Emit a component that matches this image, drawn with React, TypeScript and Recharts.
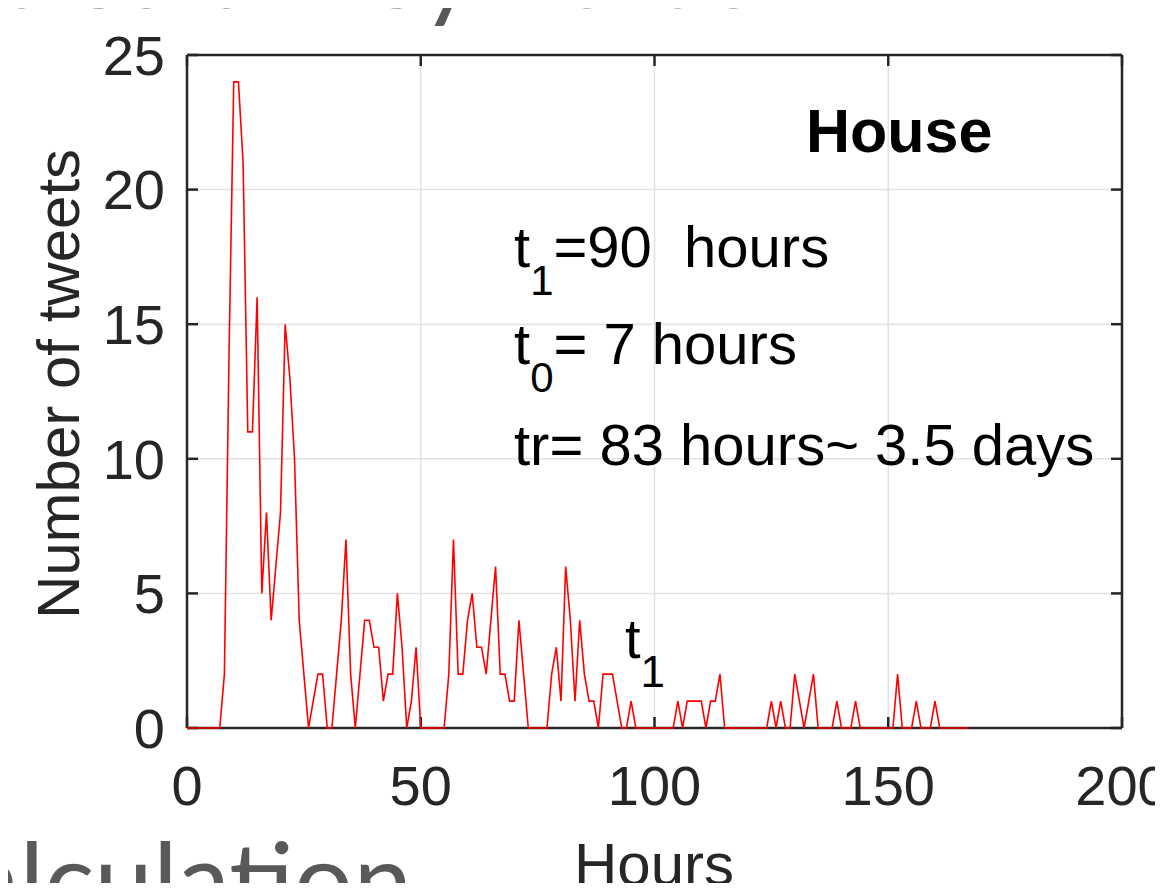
import { CartesianGrid, Line, LineChart, XAxis, YAxis } from "recharts";

// tweets per hour, one array per day (24 hourly counts each)
const day1 = [0, 0, 0, 0, 0, 0, 0, 0, 2, 14, 24, 24, 21, 11, 11, 16, 5, 8, 4, 6, 8, 15, 13, 10];
const day2 = [4, 2, 0, 1, 2, 2, 0, 0, 2, 4, 7, 2, 0, 2, 4, 4, 3, 3, 1, 2, 2, 5, 3, 0];
const day3 = [1, 3, 0, 0, 0, 0, 0, 0, 2, 7, 2, 2, 4, 5, 3, 3, 2, 4, 6, 2, 2, 1, 1, 4];
const day4 = [2, 0, 0, 0, 0, 0, 2, 3, 1, 6, 4, 1, 4, 2, 1, 1, 0, 2, 2, 2, 1, 0, 0, 1];
const day5 = [0, 0, 0, 0, 0, 0, 0, 0, 0, 1, 0, 1, 1, 1, 1, 0, 1, 1, 2, 0, 0, 0, 0, 0];
const day6 = [0, 0, 0, 0, 0, 1, 0, 1, 0, 0, 2, 1, 0, 1, 2, 0, 0, 0, 0, 1, 0, 0, 0, 1];
const day7 = [0, 0, 0, 0, 0, 0, 0, 0, 2, 0, 0, 0, 1, 0, 0, 0, 1, 0, 0, 0, 0, 0, 0, 0];

const xTicks = [0, 50, 100, 150, 200];
const yTicks = [0, 5, 10, 15, 20, 25];

const data = [...day1, ...day2, ...day3, ...day4, ...day5, ...day6, ...day7].map(
  (tweets, hour) => ({ hour, tweets })
);

const FONT = "'Liberation Sans', Arial, sans-serif";
const SLIDE_FONT = "Lato, 'Open Sans', sans-serif";
const INK = "#262626";
const tickStyle = { fontSize: 56, fill: INK, fontFamily: FONT };
const frame = { stroke: INK, strokeWidth: 2.5 };
const noLabel = () => <g />;

export default function App() {
  return (
    <div style={{ position: "relative", width: 1163, height: 891, margin: -8, background: "#fff" }}>
      <LineChart
        width={1163}
        height={891}
        data={data}
        margin={{ top: 54, right: 40, bottom: 0, left: 0 }}
      >
        <CartesianGrid
          xAxisId="bottom"
          yAxisId="left"
          stroke="#e2e2e2"
          strokeWidth={1.5}
        />
        <XAxis
          xAxisId="bottom"
          dataKey="hour"
          type="number"
          domain={[0, 200]}
          ticks={xTicks}
          height={163}
          axisLine={frame}
          tickLine={frame}
          tickSize={-11}
          tickMargin={48}
          tick={tickStyle}
          interval={0}
        />
        <XAxis
          xAxisId="top"
          orientation="top"
          dataKey="hour"
          type="number"
          domain={[0, 200]}
          ticks={xTicks}
          height={1}
          axisLine={frame}
          tickLine={frame}
          tickSize={-11}
          tick={noLabel}
          interval={0}
        />
        <YAxis
          yAxisId="left"
          type="number"
          domain={[0, 25]}
          ticks={yTicks}
          width={187}
          axisLine={frame}
          tickLine={frame}
          tickSize={-11}
          tickMargin={33}
          tick={tickStyle}
          interval={0}
        />
        <YAxis
          yAxisId="right"
          orientation="right"
          type="number"
          domain={[0, 25]}
          ticks={yTicks}
          width={1}
          axisLine={frame}
          tickLine={frame}
          tickSize={-11}
          tick={noLabel}
          interval={0}
        />
        {/* invisible twin so the top/right frame axes are bound to the data */}
        <Line
          xAxisId="top"
          yAxisId="right"
          type="linear"
          dataKey="tweets"
          stroke="none"
          dot={false}
          activeDot={false}
          isAnimationActive={false}
        />
        <Line
          xAxisId="bottom"
          yAxisId="left"
          type="linear"
          dataKey="tweets"
          stroke="#ff0000"
          strokeWidth={1.6}
          dot={false}
          zIndex={1000}
          isAnimationActive={false}
        />
      </LineChart>

      <svg
        width={1163}
        height={891}
        style={{ position: "absolute", left: 0, top: 0, pointerEvents: "none" }}
      >
        {/* slide text cut off by the crop */}
        <text x={757} y={8} textAnchor="end" fontSize={105} fontFamily={SLIDE_FONT} fill="#595959">
          Frequencies of keywords
        </text>
        <text x={412} y={918} textAnchor="end" fontSize={105} fontFamily={SLIDE_FONT} fill="#595959">
          Calculation
        </text>

        {/* axis titles */}
        <text x={654} y={885} textAnchor="middle" fontSize={60} fontFamily={FONT} fill={INK}>
          Hours
        </text>
        <text
          transform="translate(79,384) rotate(-90)"
          textAnchor="middle"
          fontSize={60}
          fontFamily={FONT}
          fill={INK}
        >
          Number of tweets
        </text>

        {/* annotations */}
        <text x={806} y={152} fontSize={61} fontWeight="bold" fontFamily={FONT} fill="#000">
          House
        </text>
        <text x={514} y={267} fontSize={58} fontFamily={FONT} fill="#000" style={{ whiteSpace: "pre" }}>
          t<tspan fontSize={42} dy={28}>1</tspan>
          <tspan dy={-28}>=90  hours</tspan>
        </text>
        <text x={514} y={364} fontSize={58} fontFamily={FONT} fill="#000" style={{ whiteSpace: "pre" }}>
          t<tspan fontSize={42} dy={28}>0</tspan>
          <tspan dy={-28}>= 7 hours</tspan>
        </text>
        <text x={514} y={465} fontSize={58} fontFamily={FONT} fill="#000" style={{ whiteSpace: "pre" }}>
          tr= 83 hours~ 3.5 days
        </text>
        <text x={625} y={658} fontSize={56} fontFamily={FONT} fill="#000">
          t<tspan fontSize={44} dy={29}>1</tspan>
        </text>
      </svg>
    </div>
  );
}
